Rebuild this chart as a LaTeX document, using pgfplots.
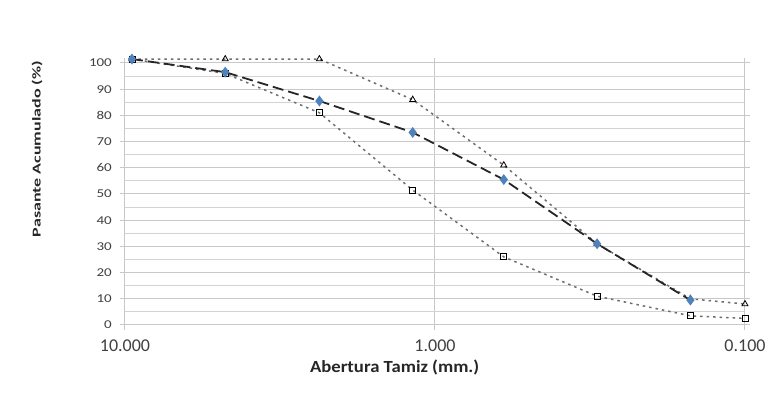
\documentclass[border=0pt]{standalone}
\usepackage{fontspec}
\setmainfont{Carlito}
\usepackage{pgfplots}
\pgfplotsset{compat=1.18}
\definecolor{gridc}{RGB}{200,200,200}
\definecolor{mblue}{RGB}{79,129,189}
\definecolor{dotc}{RGB}{110,110,110}
\begin{document}
\begin{tikzpicture}[x=1pt,y=1pt]
\useasboundingbox[fill=white] (0,0) rectangle (780,398);
\begin{axis}[
  at={(125pt,73pt)}, anchor=south west,
  scale only axis, width=620pt, height=262pt,
  xmode=log, x dir=reverse,
  xmin=0.1, xmax=10, ymin=0, ymax=100,
  clip=false,
  axis line style={gridc, line width=1pt},
  xtick={10,1,0.1}, xticklabels={10.000,1.000,0.100},
  minor xtick={},
  ytick={0,10,...,100},
  minor ytick={5,15,...,95},
  xmajorgrids, ymajorgrids, yminorgrids,
  major grid style={gridc, line width=1pt},
  minor grid style={gridc!80, line width=0.8pt},
  tick align=outside, major tick length=5pt,
  tick style={gridc, line width=1pt},
  minor tick length=0pt,
  /pgf/number format/assume math mode=true,
  xticklabel style={font=\fontsize{18}{19}\selectfont, text=black!75, yshift=-6pt},
  yticklabel style={font=\fontsize{12}{13}\selectfont, text=black!75, xscale=1.25, xshift=-3pt},
  xlabel={\scalebox{1.1}[1]{\textbf{Abertura Tamiz (mm.)}}},
  xlabel style={font=\fontsize{17}{18}\selectfont, text=black!85, at={(axis description cs:0.435,-0.164)}, anchor=center},
  ylabel={\scalebox{1.5}[1]{\textbf{Pasante Acumulado (\%)}}},
  ylabel style={font=\fontsize{12}{13}\selectfont, text=black!85, at={(axis description cs:-0.142,0.672)}, anchor=center, rotate=0},
]
% upper limit
\addplot[dotc, dash pattern=on 2.5pt off 4pt, line width=1.5pt,
  mark=triangle, mark size=3.5pt, mark options={solid, black, line width=0.8pt}]
  coordinates {(9.5,101.5) (4.75,101.5) (2.36,101.5) (1.18,86) (0.6,61) (0.3,31) (0.15,10) (0.1,8)};
% lower limit
\addplot[dotc, dash pattern=on 2.5pt off 4pt, line width=1.5pt,
  mark=square, mark size=3pt, mark options={solid, black, line width=0.8pt}]
  coordinates {(9.5,101.5) (4.75,96) (2.36,81) (1.18,51.5) (0.6,26) (0.3,11) (0.15,3.5) (0.1,2.5)};
% sample
\addplot[black!85, dash pattern=on 11pt off 5pt, line width=1.8pt,
  mark=diamond*, mark size=4pt, mark options={solid, mblue, draw=mblue}]
  coordinates {(9.5,101.5) (4.75,96.5) (2.36,85.5) (1.18,73.5) (0.6,55.5) (0.3,31) (0.15,9.5)};
\end{axis}
\end{tikzpicture}
\end{document}
